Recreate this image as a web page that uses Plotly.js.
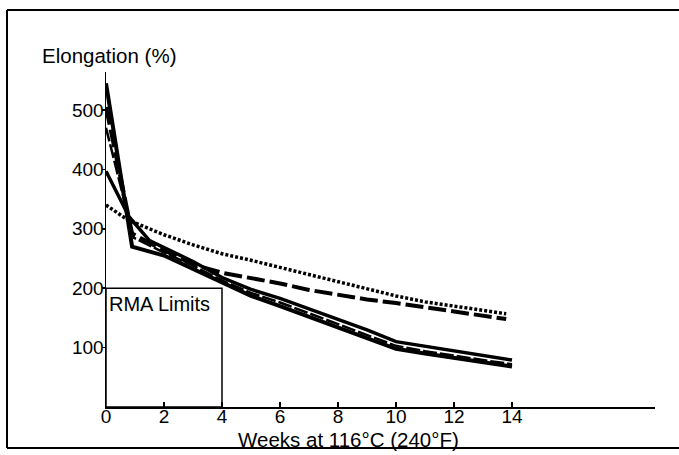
<!DOCTYPE html>
<html><head><meta charset="utf-8">
<script src="https://cdn.plot.ly/plotly-3.0.1.min.js"></script>
<style>html,body{margin:0;padding:0;background:#fff}#c{width:679px;height:455px}</style>
</head><body><div id="c"></div>
<script>
// Weeks at 116°C and elongation (%) per compound curve
const s1Weeks = [0, 0.9, 2, 3, 4, 5, 6, 7, 8, 9, 10, 11, 12, 13, 14];
const s1Elong = [545, 270, 255, 232, 210, 187, 170, 152, 135, 117, 98, 90, 83, 76, 68];
const s2Weeks = [0, 0.8, 1.5, 2, 3, 4, 5, 6, 7, 8, 9, 10, 11, 12, 13, 14];
const s2Elong = [397, 320, 280, 268, 245, 218, 198, 183, 165, 148, 130, 110, 102, 95, 87, 79];
const s5Weeks = [0, 0.95, 2, 3, 4, 5, 6, 7, 8, 9, 10, 11, 12, 13, 14];
const s5Elong = [470, 285, 260, 238, 213, 192, 176, 158, 140, 122, 103, 94, 86, 79, 72];
const s3Weeks = [0, 0.9, 1.75, 3, 4, 5, 6, 7, 8, 9, 10, 11, 12, 13, 13.8];
const s3Elong = [505, 292, 270, 240, 226, 217, 208, 197, 189, 181, 175, 168, 161, 154, 148];
const s4Weeks = [0, 0.75, 1.5, 2, 3, 4, 5, 6, 7, 8, 9, 10, 11, 12, 13, 13.8];
const s4Elong = [340, 315, 300, 290, 273, 258, 247, 235, 224, 212, 200, 187, 177, 170, 163, 157];
const xTicks = [0, 2, 4, 6, 8, 10, 12, 14];
const yTicks = [100, 200, 300, 400, 500];
const rmaWeeks = 4;
const rmaElong = 200;

const F = "Liberation Sans, Arial, sans-serif";
function tr(x, y, dash, w) {
  return {x: x, y: y, type: 'scatter', mode: 'lines', cliponaxis: false,
    line: {color: '#000', width: w, dash: dash}, hoverinfo: 'skip'};
}
const data = [
  tr(s1Weeks, s1Elong, 'solid', 4),
  tr(s2Weeks, s2Elong, 'solid', 3.5),
  tr(s5Weeks, s5Elong, '14px,3px', 2.5),
  tr(s3Weeks, s3Elong, '18px,5px', 4),
  tr(s4Weeks, s4Elong, '3px,2px', 3.5)
];
const L = 106, R = 655, T = 72, B = 407, W = 679, H = 455;
const pw = R - L, ph = B - T;
const px = v => (v - L) / pw, py = v => (B - v) / ph;
const layout = {
  width: W, height: H,
  margin: {l: L, r: W - R, t: T, b: H - B, pad: 0},
  paper_bgcolor: '#fff', plot_bgcolor: '#fff',
  showlegend: false,
  font: {family: F, color: '#000', size: 20},
  title: {text: 'Elongation (%)', x: 42 / W, xanchor: 'left', xref: 'container',
    y: 1 - 56 / H, yref: 'container', yanchor: 'middle', font: {family: F, size: 20.5, color: '#000'}},
  xaxis: {range: [0, (R - L) / 29], tickvals: xTicks, ticktext: xTicks.map(String),
    showgrid: false, zeroline: false, showline: true, linecolor: '#000', linewidth: 1.5,
    ticks: 'inside', ticklen: 5, tickwidth: 1.5, tickcolor: '#000', ticklabelstandoff: -8,
    tickfont: {family: F, size: 19, color: '#000'}},
  yaxis: {range: [0, (B - T) / 0.594], tickvals: yTicks, ticktext: yTicks.map(String),
    showgrid: false, zeroline: false, showline: true, linecolor: '#000', linewidth: 1.5,
    ticks: 'outside', ticklen: 3, tickwidth: 1.5, tickcolor: '#000', ticklabelstandoff: -6,
    tickfont: {family: F, size: 19, color: '#000'}},
  shapes: [
    {type: 'rect', xref: 'x', yref: 'y', x0: 0, x1: rmaWeeks, y0: 0, y1: rmaElong,
      line: {color: '#000', width: 1.5}},
    {type: 'line', xref: 'paper', yref: 'paper', x0: px(7), x1: px(7), y0: py(10), y1: py(448), line: {color: '#000', width: 2}},
    {type: 'line', xref: 'paper', yref: 'paper', x0: px(7), x1: px(679), y0: py(10), y1: py(10), line: {color: '#000', width: 2}},
    {type: 'line', xref: 'paper', yref: 'paper', x0: px(7), x1: px(679), y0: py(448), y1: py(448), line: {color: '#000', width: 2}}
  ],
  annotations: [
    {text: 'RMA Limits', xref: 'x', yref: 'y', x: 0, y: rmaElong, xanchor: 'left', yanchor: 'top',
      xshift: 1, yshift: -3, showarrow: false, font: {family: F, size: 20, color: '#000'}},
    {text: 'Weeks at 116°C (240°F)', xref: 'paper', yref: 'paper', x: px(348), y: py(439),
      xanchor: 'center', yanchor: 'middle', showarrow: false, font: {family: F, size: 20.5, color: '#000'}}
  ]
};
Plotly.newPlot('c', data, layout, {staticPlot: true, displayModeBar: false});
</script></body></html>
